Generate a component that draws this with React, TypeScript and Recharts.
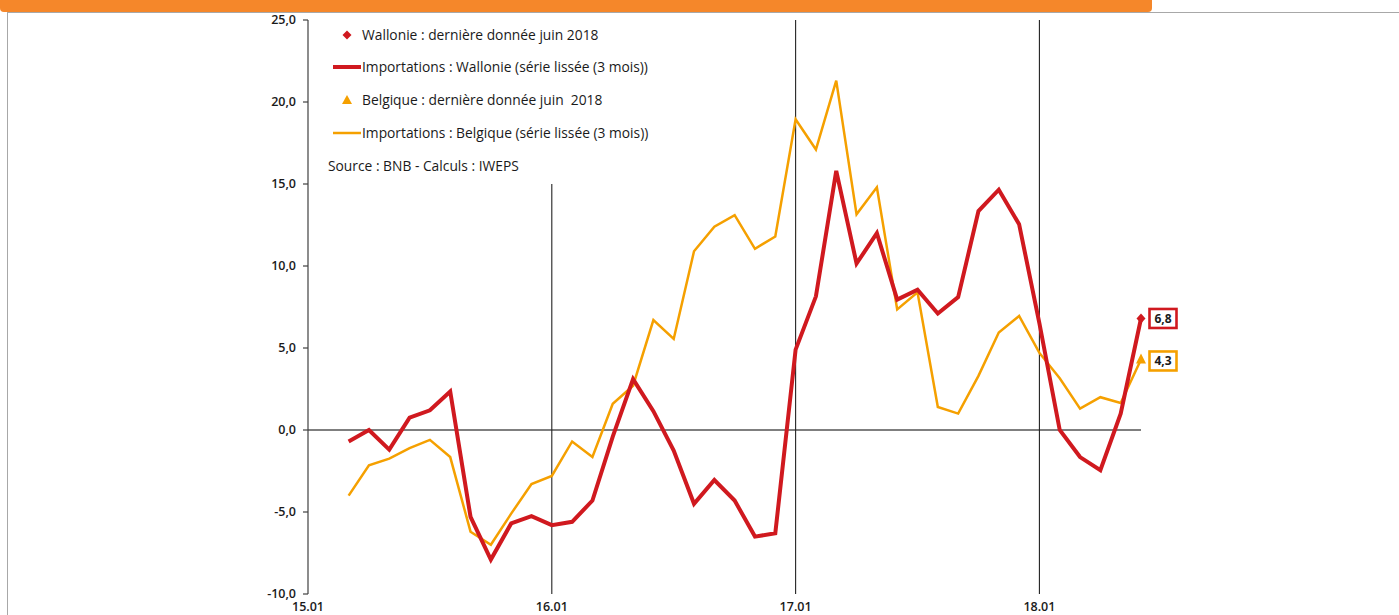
import React from 'react';
import { LineChart, Line, XAxis, YAxis, ReferenceLine, LabelList } from 'recharts';

// months counted from 15.01 (= 0), data runs from 15.03 to 18.06
const months = [
  2, 3, 4, 5, 6, 7, 8, 9, 10, 11, 12, 13, 14, 15, 16, 17, 18, 19, 20, 21,
  22, 23, 24, 25, 26, 27, 28, 29, 30, 31, 32, 33, 34, 35, 36, 37, 38, 39, 40, 41,
];

// Importations : Wallonie (série lissée 3 mois)
const wallonie = [
  -0.7, 0.0, -1.2, 0.75, 1.2, 2.35, -5.3, -7.9, -5.7, -5.25,
  -5.8, -5.6, -4.3, -0.4, 3.1, 1.15, -1.25, -4.5, -3.05, -4.3,
  -6.5, -6.3, 4.9, 8.15, 15.8, 10.15, 12.0, 7.95, 8.55, 7.1,
  8.1, 13.35, 14.65, 12.55, 6.5, 0.0, -1.65, -2.45, 1.0, 6.8,
];

// Importations : Belgique (série lissée 3 mois)
const belgique = [
  -4.0, -2.15, -1.75, -1.1, -0.6, -1.65, -6.2, -7.0, -5.1, -3.3,
  -2.8, -0.7, -1.65, 1.6, 2.7, 6.7, 5.55, 10.9, 12.4, 13.1,
  11.05, 11.8, 18.95, 17.1, 21.3, 13.15, 14.8, 7.35, 8.4, 1.4,
  1.0, 3.3, 5.95, 6.95, 4.7, 3.15, 1.3, 2.0, 1.65, 4.3,
];

const xTicks = [0, 12, 24, 36];
const xTickLabels = ['15.01', '16.01', '17.01', '18.01'];
const yTicks = [-10, -5, 0, 5, 10, 15, 20, 25];

const RED = '#D0191F';
const YELLOW = '#F5A000';
const ORANGE = '#F5872A';
const INK = '#1a1a1a';
const FONT = '"Open Sans", "Noto Sans", sans-serif';

const data = months.map((m, i) => ({ m, wal: wallonie[i], bel: belgique[i] }));
const last = data.length - 1;

const fmt = (v: number) => v.toFixed(1).replace('.', ',');

const diamondDot = (p: any) => {
  if (p.index !== last) return <g key={`dw${p.index}`} />;
  const { cx, cy } = p;
  return (
    <path
      key="dw-last"
      d={`M${cx},${cy - 5}L${cx + 4.5},${cy}L${cx},${cy + 5}L${cx - 4.5},${cy}Z`}
      fill={RED}
    />
  );
};

const triangleDot = (p: any) => {
  if (p.index !== last) return <g key={`db${p.index}`} />;
  const { cx, cy } = p;
  return (
    <path
      key="db-last"
      d={`M${cx},${cy - 6}L${cx + 5},${cy + 4}L${cx - 5},${cy + 4}Z`}
      fill={YELLOW}
    />
  );
};

const endLabel = (color: string, shift: number) => (p: any) => {
  if (p.index !== last) return null;
  const x = Number(p.x);
  const y = Number(p.y) + shift;
  return (
    <g>
      <rect x={x + 8.5} y={y - 9.5} width={27} height={19} fill="#fff" stroke={color} strokeWidth={2.6} />
      <text x={x + 22} y={y + 4.3} textAnchor="middle" fontSize={12} fontWeight={700} fill={INK} fontFamily={FONT}>
        {fmt(Number(p.value))}
      </text>
    </g>
  );
};

const legendText: React.CSSProperties = {
  position: 'absolute',
  fontSize: 13.8,
  fontWeight: 500,
  color: INK,
  whiteSpace: 'nowrap',
  lineHeight: '16px',
};

const Legend = () => (
  <div style={{ position: 'absolute', left: 0, top: 0 }}>
    <svg width={370} height={145} style={{ position: 'absolute', left: 0, top: 0 }}>
      <path d="M347,30.5L351.5,35L347,39.5L342.5,35Z" fill={RED} />
      <line x1={333} y1={67} x2={361} y2={67} stroke={RED} strokeWidth={4} />
      <path d="M347,95L352,104L342,104Z" fill={YELLOW} />
      <line x1={333} y1={133} x2={361} y2={133} stroke={YELLOW} strokeWidth={2.5} />
    </svg>
    <span style={{ ...legendText, left: 362, top: 27 }}>Wallonie : dernière donnée juin 2018</span>
    <span style={{ ...legendText, left: 362, top: 59 }}>Importations : Wallonie (série lissée (3 mois))</span>
    <span style={{ ...legendText, left: 362, top: 92 }}>Belgique : dernière donnée juin &nbsp;2018</span>
    <span style={{ ...legendText, left: 362, top: 125 }}>Importations : Belgique (série lissée (3 mois))</span>
    <span style={{ ...legendText, left: 328, top: 158 }}>Source : BNB - Calculs : IWEPS</span>
  </div>
);

export default function App() {
  return (
    <div
      style={{
        position: 'absolute',
        left: 0,
        top: 0,
        width: 1399,
        height: 615,
        background: '#fff',
        overflow: 'hidden',
        fontFamily: FONT,
      }}
    >
      {/* frame: orange band on top, thin grey border */}
      <div
        style={{
          position: 'absolute',
          left: 0,
          top: -6,
          width: 1152,
          height: 18,
          background: ORANGE,
          borderRadius: 4,
        }}
      />
      <div style={{ position: 'absolute', left: 7, right: 0, top: 12, height: 1, background: '#a8a8a8' }} />
      <div style={{ position: 'absolute', left: 7, top: 12, bottom: 0, width: 1, background: '#a8a8a8' }} />

      <div style={{ position: 'absolute', left: 0, top: 0 }}>
        <LineChart width={1399} height={615} data={data} margin={{ top: 20, right: 258, bottom: 0, left: 0 }}>
          <XAxis
            type="number"
            dataKey="m"
            domain={[0, 41]}
            ticks={xTicks}
            tickFormatter={(v: number) => xTickLabels[xTicks.indexOf(v)] ?? ''}
            axisLine={false}
            tickLine={false}
            tickSize={0}
            tickMargin={8}
            height={21}
            interval={0}
            tick={{ fontSize: 12.5, fontWeight: 600, fill: INK, fontFamily: FONT }}
          />
          <YAxis
            domain={[-10, 25]}
            ticks={yTicks}
            interval={0}
            width={308}
            tickSize={5}
            tickMargin={7}
            tickFormatter={fmt}
            axisLine={{ stroke: '#404040', strokeWidth: 1.2 }}
            tickLine={{ stroke: '#404040', strokeWidth: 1.2 }}
            tick={{ fontSize: 12.5, fontWeight: 600, fill: INK, fontFamily: FONT }}
          />
          <ReferenceLine y={0} stroke="#7f7f7f" strokeWidth={2} />
          <ReferenceLine
            segment={[
              { x: 12, y: 15 },
              { x: 12, y: -10 },
            ]}
            stroke="#222"
            strokeWidth={1.1}
          />
          <ReferenceLine x={24} stroke="#222" strokeWidth={1.1} />
          <ReferenceLine x={36} stroke="#222" strokeWidth={1.1} />
          <Line
            type="linear"
            dataKey="bel"
            stroke={YELLOW}
            strokeWidth={2.5}
            dot={triangleDot}
            activeDot={false}
            isAnimationActive={false}
          >
            <LabelList dataKey="bel" content={endLabel(YELLOW, 1.5)} />
          </Line>
          <Line
            type="linear"
            dataKey="wal"
            stroke={RED}
            strokeWidth={4}
            dot={diamondDot}
            activeDot={false}
            isAnimationActive={false}
          >
            <LabelList dataKey="wal" content={endLabel(RED, 0)} />
          </Line>
        </LineChart>
      </div>

      <Legend />
    </div>
  );
}
